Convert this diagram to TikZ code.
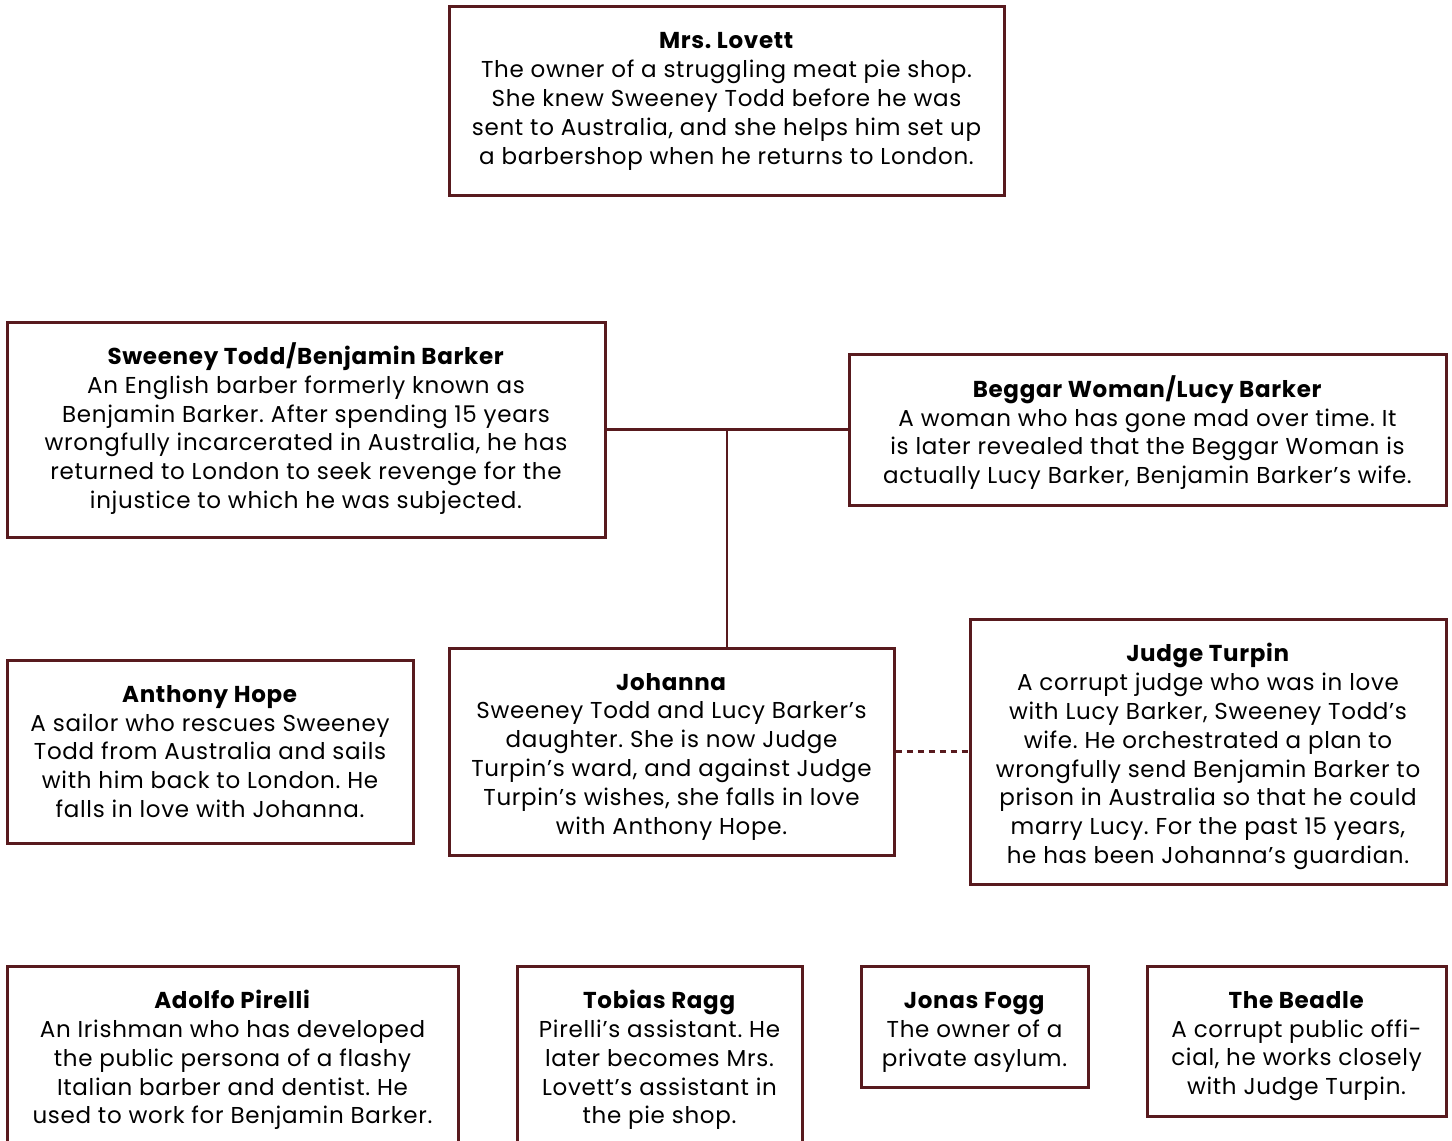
\documentclass[tikz,border=0pt]{standalone}
\usepackage{fontspec}
\setmainfont{Poppins}[LetterSpace=3]
\definecolor{maroon}{RGB}{88,26,30}
\frenchspacing
\tikzset{
  box/.style={draw=maroon, line width=1.5pt, inner sep=0pt},
  txt/.style={align=center, inner sep=0pt, font=\fontsize{11.5pt}{14.4pt}\selectfont},
  sz/.style 2 args={minimum width=#1*0.5pt, minimum height=#2*0.5pt},
  link/.style={draw=maroon, line width=1.4pt},
}
\begin{document}
\begin{tikzpicture}[x=0.5pt,y=-0.5pt]
\useasboundingbox (0,0) rectangle (1452,1141);
\clip (0,0) rectangle (1452,1141);
% boxes
\node[box, sz={555}{189}] (lovett) at (726.5,100.5) {};
\node[box, sz={598}{215}] (sweeney) at (306,429.5) {};
\node[box, sz={597}{151}] (beggar) at (1147.5,429.5) {};
\node[box, sz={406}{183}] (anthony) at (210,751.5) {};
\node[box, sz={445}{207}] (johanna) at (671.5,751.5) {};
\node[box, sz={476}{265}] (judge) at (1208,751.5) {};
\node[box, sz={451}{182}] (adolfo) at (232.5,1057) {};
\node[box, sz={285}{182}] (tobias) at (659.5,1057) {};
\node[box, sz={227}{121}] (jonas) at (974.5,1026.5) {};
\node[box, sz={299}{150}] (beadle) at (1296.5,1041) {};
% texts
\node[txt] (lovett-t) at ([yshift=-0.5pt]lovett.center) {\textbf{Mrs. Lovett}\\The owner of a struggling meat pie shop.\\She knew Sweeney Todd before he was\\sent to Australia, and she helps him set up\\a barbershop when he returns to London.};
\node[txt] (sweeney-t) at ([yshift=0.5pt]sweeney.center) {\textbf{Sweeney Todd/Benjamin Barker}\\An English barber formerly known as\\Benjamin Barker. After spending 15 years\\wrongfully incarcerated in Australia, he has\\returned to London to seek revenge for the\\injustice to which he was subjected.};
\node[txt] (beggar-t) at ([yshift=-1.5pt]beggar.center) {\textbf{Beggar Woman/Lucy Barker}\\A woman who has gone mad over time. It\\is later revealed that the Beggar Woman is\\actually Lucy Barker, Benjamin Barker’s wife.};
\node[txt] (anthony-t) at (anthony.center) {\textbf{Anthony Hope}\\A sailor who rescues Sweeney\\Todd from Australia and sails\\with him back to London. He\\falls in love with Johanna.};
\node[txt] (johanna-t) at ([yshift=-2.5pt]johanna.center) {\textbf{Johanna}\\Sweeney Todd and Lucy Barker’s\\daughter. She is now Judge\\Turpin’s ward, and against Judge\\Turpin’s wishes, she falls in love\\with Anthony Hope.};
\node[txt] (judge-t) at ([yshift=-2.5pt]judge.center) {\textbf{Judge Turpin}\\A corrupt judge who was in love\\with Lucy Barker, Sweeney Todd’s\\wife. He orchestrated a plan to\\wrongfully send Benjamin Barker to\\prison in Australia so that he could\\marry Lucy. For the past 15 years,\\he has been Johanna’s guardian.};
\node[txt] (adolfo-t) at ([yshift=-1.5pt]adolfo.center) {\textbf{Adolfo Pirelli}\\An Irishman who has developed\\the public persona of a flashy\\Italian barber and dentist. He\\used to work for Benjamin Barker.};
\node[txt] (tobias-t) at ([yshift=-1.5pt]tobias.center) {\textbf{Tobias Ragg}\\Pirelli’s assistant. He\\later becomes Mrs.\\Lovett’s assistant in\\the pie shop.};
\node[txt] (jonas-t) at ([yshift=-3pt]jonas.center) {\textbf{Jonas Fogg}\\The owner of a\\private asylum.};
\node[txt] (beadle-t) at ([yshift=-2.5pt]beadle.center) {\textbf{The Beadle}\\A corrupt public offi-\\cial, he works closely\\with Judge Turpin.};
% connectors
\coordinate (j) at (727,429.5);
\draw[link] (sweeney.east) -- (beggar.west);
\draw[link] (j) -- (j |- johanna.north);
\draw[link, dash pattern=on 3pt off 2.5pt] (johanna.east) -- (judge.west);
\end{tikzpicture}
\end{document}
